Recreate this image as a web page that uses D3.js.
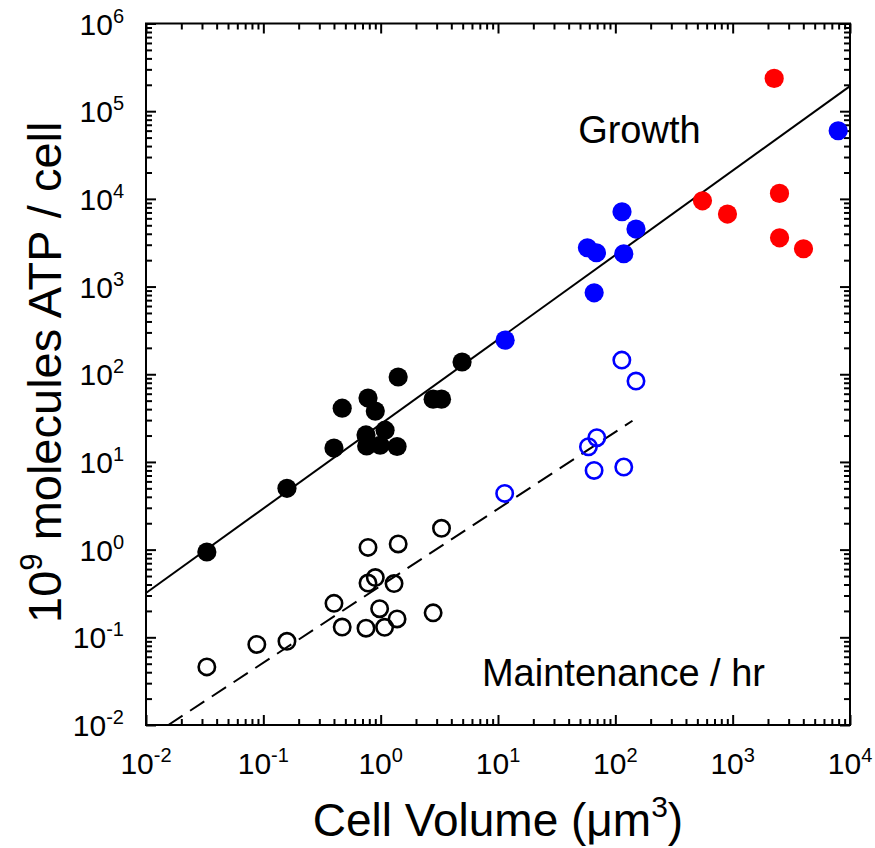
<!DOCTYPE html>
<html>
<head>
<meta charset="utf-8">
<script src="https://cdn.jsdelivr.net/npm/d3@7"></script>
<style>
body { margin: 0; background: #fff; }
svg text { font-family: Arial, "Liberation Sans", sans-serif; fill: #000; }
.axis path { display: none; }
.axis line { stroke: #000; stroke-width: 2; }
</style>
</head>
<body>
<div class="chart-wrapper"></div>
<script>
// cell volume (um^3) / 1e9 ATP per cell
const growthBlackX = [0.033, 0.159, 0.40, 0.47, 0.78, 0.90, 0.75, 0.76, 0.99, 1.09, 1.38, 1.41, 2.8, 3.3, 4.94]
const growthBlackY = [0.94, 5.0, 14.4, 41, 53.6, 38, 20.3, 15.2, 15.5, 23, 15, 93, 52, 52, 138]

const maintBlackX = [0.033, 0.088, 0.159, 0.40, 0.47, 0.78, 0.90, 0.78, 0.75, 0.98, 1.08, 1.30, 1.41, 1.38, 2.8, 3.3]
const maintBlackY = [0.046, 0.083, 0.090, 0.244, 0.131, 1.06, 0.48, 0.416, 0.127, 0.212, 0.13, 0.41, 1.16, 0.162, 0.19, 1.75]

const growthBlueX = [11.5, 114, 150, 57.8, 69, 118, 66, 7930]
const growthBlueY = [245, 7130, 4530, 2770, 2430, 2366, 849, 59800]

const maintBlueX = [11.4, 113.6, 150, 59, 69.5, 65.9, 118]
const maintBlueY = [4.38, 145, 83.6, 14.9, 18.9, 8.0, 8.75]

const growthRedX = [2258, 553, 903, 2506, 2510, 4015]
const growthRedY = [236600, 9510, 6710, 11550, 3600, 2700]

// fitted power laws (end points)
const growthFitX = [0.01, 10000]
const growthFitY = [0.32, 193000]
const maintFitX = [0.0155, 140]
const maintFitY = [0.01, 29.5]

const xExps = [-2, -1, 0, 1, 2, 3, 4]
const yExps = [-2, -1, 0, 1, 2, 3, 4, 5, 6]

const labels = [
  {text: 'Growth', x: 48.2, y: 43300},
  {text: 'Maintenance / hr', x: 7.3, y: 0.0279}
]

const width = 875
const height = 848
const margin = {top: 23.5, right: 25, bottom: 123, left: 146}

const zip = (xs, ys) => xs.map((v, i) => ({x: v, y: ys[i]}))

let x = d3.scaleLog().domain([1e-2, 1e4]).range([margin.left, width - margin.right])
let y = d3.scaleLog().domain([1e-2, 1e6]).range([height - margin.bottom, margin.top])

let svg = d3.select('.chart-wrapper').append('svg')
  .attr('width', width)
  .attr('height', height)

const majorX = xExps.map(e => Math.pow(10, e))
const majorY = yExps.map(e => Math.pow(10, e))
const minorX = x.ticks().filter(v => !majorX.some(m => Math.abs(m - v) / m < 1e-6))
const minorY = y.ticks().filter(v => !majorY.some(m => Math.abs(m - v) / m < 1e-6))

const x0 = margin.left, x1 = width - margin.right
const y0 = height - margin.bottom, y1 = margin.top

// ticks on all four sides, pointing inwards
const tickSides = [
  {axis: d3.axisBottom(x), at: 'translate(0,' + y0 + ')', major: majorX, minor: minorX},
  {axis: d3.axisTop(x), at: 'translate(0,' + y1 + ')', major: majorX, minor: minorX},
  {axis: d3.axisLeft(y), at: 'translate(' + x0 + ',0)', major: majorY, minor: minorY},
  {axis: d3.axisRight(y), at: 'translate(' + x1 + ',0)', major: majorY, minor: minorY}
]

tickSides.forEach(s => {
  svg.append('g').attr('class', 'axis').attr('transform', s.at)
    .call(s.axis.tickValues(s.major).tickSize(-10).tickFormat(''))
  svg.append('g').attr('class', 'axis').attr('transform', s.at)
    .call(s.axis.tickValues(s.minor).tickSize(-6).tickFormat(''))
})

// frame
svg.append('rect')
  .attr('x', x0).attr('y', y1)
  .attr('width', x1 - x0).attr('height', y0 - y1)
  .attr('fill', 'none').attr('stroke', '#000').attr('stroke-width', 2)

// tick labels with superscripts
function powLabel(sel, e) {
  sel.append('tspan').text('10')
  sel.append('tspan').attr('font-size', 20).attr('dy', -12).text(e)
}

svg.append('g').selectAll('text').data(xExps).join('text')
  .attr('x', d => x(Math.pow(10, d)))
  .attr('y', y0 + 49)
  .attr('text-anchor', 'middle')
  .attr('font-size', 30)
  .each(function(d) { powLabel(d3.select(this), d) })

svg.append('g').selectAll('text').data(yExps).join('text')
  .attr('x', x0 - 22)
  .attr('y', d => y(Math.pow(10, d)) + 11)
  .attr('text-anchor', 'end')
  .attr('font-size', 30)
  .each(function(d) { powLabel(d3.select(this), d) })

// axis titles
let xt = svg.append('text')
  .attr('x', (x0 + x1) / 2)
  .attr('y', 836)
  .attr('text-anchor', 'middle')
  .attr('font-size', 46)
xt.append('tspan').text('Cell Volume (\u03bcm')
xt.append('tspan').attr('font-size', 30).attr('dy', -19).text('3')
xt.append('tspan').attr('dy', 19).text(')')

let yt = svg.append('text')
  .attr('transform', 'translate(61,' + ((y0 + y1) / 2 - 2) + ') rotate(-90)')
  .attr('text-anchor', 'middle')
  .attr('font-size', 47)
yt.append('tspan').text('10')
yt.append('tspan').attr('font-size', 31).attr('dy', -19).text('9')
yt.append('tspan').attr('dy', 19).text(' molecules ATP / cell')

// fit lines
let fitLine = d3.line().x(d => x(d.x)).y(d => y(d.y))

svg.append('path')
  .datum(zip(growthFitX, growthFitY))
  .attr('d', fitLine)
  .attr('fill', 'none').attr('stroke', '#000').attr('stroke-width', 2)

svg.append('path')
  .datum(zip(maintFitX, maintFitY))
  .attr('d', fitLine)
  .attr('fill', 'none').attr('stroke', '#000').attr('stroke-width', 2)
  .attr('stroke-dasharray', '17,9')

// points
const series = [
  {data: zip(maintBlackX, maintBlackY), color: '#000', open: true},
  {data: zip(maintBlueX, maintBlueY), color: '#0000ff', open: true},
  {data: zip(growthBlackX, growthBlackY), color: '#000', open: false},
  {data: zip(growthBlueX, growthBlueY), color: '#0000ff', open: false},
  {data: zip(growthRedX, growthRedY), color: '#ff0000', open: false}
]

series.forEach(s => {
  svg.append('g').selectAll('circle').data(s.data).join('circle')
    .attr('cx', d => x(d.x))
    .attr('cy', d => y(d.y))
    .attr('r', s.open ? 8.2 : 9.6)
    .attr('fill', s.open ? 'none' : s.color)
    .attr('stroke', s.open ? s.color : 'none')
    .attr('stroke-width', 2.6)
})

// in-plot labels
svg.append('g').selectAll('text').data(labels).join('text')
  .attr('x', d => x(d.x))
  .attr('y', d => y(d.y))
  .attr('font-size', 38)
  .text(d => d.text)
</script>
</body>
</html>
